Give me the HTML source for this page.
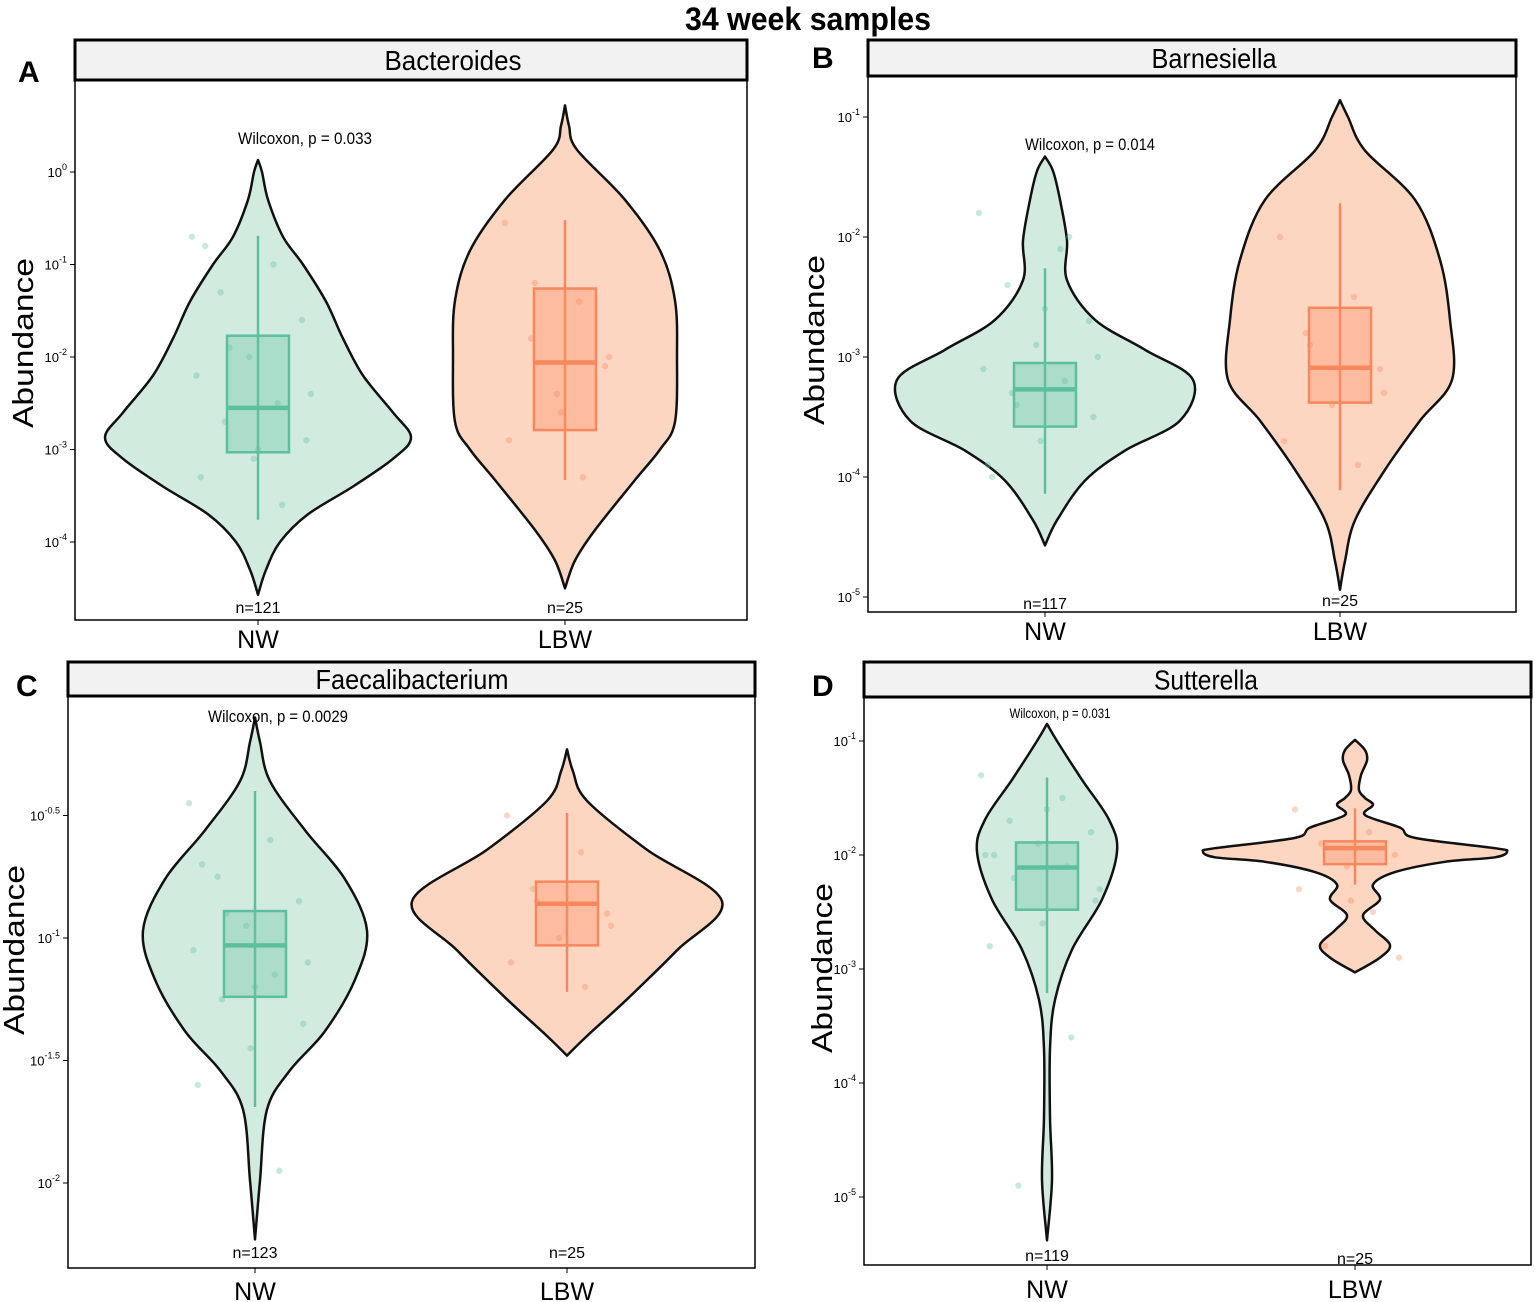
<!DOCTYPE html>
<html><head><meta charset="utf-8"><style>
html,body{margin:0;padding:0;background:#fff}
svg{display:block;font-family:"Liberation Sans Narrow","Liberation Sans",sans-serif}
</style></head><body>
<svg id="fig" width="1535" height="1302" viewBox="0 0 1535 1302" xmlns="http://www.w3.org/2000/svg">
<text x="808" y="30" font-size="32" font-weight="bold" text-anchor="middle" textLength="246" lengthAdjust="spacingAndGlyphs">34 week samples</text>
</svg>
<script>
// ---- data ----
const groups = ["NW","LBW"];
const taxa = ["Bacteroides","Barnesiella","Faecalibacterium","Sutterella"];
const panelLetters = ["A","B","C","D"];
const pvalues = ["Wilcoxon, p = 0.033","Wilcoxon, p = 0.014","Wilcoxon, p = 0.0029","Wilcoxon, p = 0.031"];
const counts = [["n=121","n=25"],["n=117","n=25"],["n=123","n=25"],["n=119","n=25"]];
const tickLogs = [[0,-1,-2,-3,-4],[-1,-2,-3,-4,-5],[-0.5,-1,-1.5,-2],[-1,-2,-3,-4,-5]];
const tickLabels = [["0","-1","-2","-3","-4"],["-1","-2","-3","-4","-5"],["-0.5","-1","-1.5","-2"],["-1","-2","-3","-4","-5"]];
// violin density profiles: [log10 value, relative half width]
const violinA_NW = [[0.13,0],[0,4],[-0.3,10],[-0.7,25],[-1.0,45],[-1.4,68],[-1.8,85],[-2.2,105],[-2.6,135],[-2.87,153],[-3.1,135],[-3.4,95],[-3.7,50],[-4.0,22],[-4.3,8],[-4.57,0]];
const violinA_LBW = [[0.72,0],[0.5,4],[0.24,12],[-0.3,60],[-0.85,95],[-1.39,110],[-2.0,112],[-2.7,110],[-3.0,95],[-3.33,70],[-3.87,30],[-4.2,10],[-4.5,0]];
const violinB_NW = [[-1.33,0],[-1.45,8],[-1.69,15],[-2.03,22],[-2.36,22],[-2.69,50],[-2.94,100],[-3.19,148],[-3.53,135],[-3.78,80],[-4.03,40],[-4.36,12],[-4.57,0]];
const violinB_LBW = [[-0.86,0],[-1.0,8],[-1.28,25],[-1.69,75],[-2.19,100],[-2.69,110],[-3.19,112],[-3.53,80],[-3.94,45],[-4.36,15],[-4.7,5],[-4.94,0]];
const violinC_NW = [[-0.10,0],[-0.2,5],[-0.36,15],[-0.56,50],[-0.76,90],[-0.97,112],[-1.17,100],[-1.38,70],[-1.54,35],[-1.70,12],[-1.99,5],[-2.23,0]];
const violinC_LBW = [[-0.23,0],[-0.32,6],[-0.44,20],[-0.64,80],[-0.85,155],[-1.05,110],[-1.25,60],[-1.40,20],[-1.48,0]];
const violinD_NW = [[-0.85,0],[-1.0,10],[-1.34,35],[-1.69,62],[-1.97,70],[-2.39,55],[-2.83,25],[-3.27,8],[-3.7,3],[-4.3,3],[-4.85,5],[-5.38,0]];
const violinD_LBW = [[-0.99,0],[-1.08,10],[-1.17,12],[-1.3,6],[-1.43,4],[-1.5,10],[-1.56,18],[-1.65,10],[-1.76,45],[-1.85,60],[-1.94,140],[-1.97,152],[-2.02,140],[-2.06,90],[-2.15,40],[-2.26,18],[-2.39,25],[-2.53,8],[-2.66,20],[-2.79,35],[-2.90,25],[-3.03,0]];
// box stats: [whisker low, q1, median, q3, whisker high] (log10)
const boxA = [[-3.76,-3.03,-2.55,-1.77,-0.69],[-3.33,-2.79,-2.06,-1.26,-0.52]];
const boxB = [[-4.14,-3.58,-3.27,-3.05,-2.26],[-4.11,-3.38,-3.09,-2.59,-1.72]];
const boxC = [[-1.69,-1.24,-1.03,-0.89,-0.40],[-1.22,-1.03,-0.86,-0.77,-0.49]];
const boxD = [[-3.21,-2.48,-2.11,-1.89,-1.32],[-2.26,-2.08,-1.94,-1.88,-1.59]];
// jittered observations (log10)
const ptsA = [[-0.7,-1.0,-1.3,-1.6,-2.0,-2.2,-2.5,-2.7,-2.9,-3.1,-3.3,-3.6,-1.9,-2.4,-3.0,-0.8],[-0.55,-1.4,-1.8,-2.1,-2.4,-2.9,-3.3,-1.2,-2.0,-2.6]];
const ptsB = [[-1.8,-2.1,-2.4,-2.7,-2.9,-3.1,-3.2,-3.3,-3.5,-3.7,-3.9,-2.0,-3.4,-3.0,-2.6,-4.0],[-2.0,-2.5,-2.8,-3.1,-3.4,-3.7,-3.9,-2.9,-3.3]];
const ptsC = [[-0.45,-0.6,-0.75,-0.85,-0.95,-1.05,-1.15,-1.25,-1.35,-1.45,-1.6,-1.95,-0.9,-1.1,-1.2,-0.7],[-0.5,-0.65,-0.8,-0.9,-1.0,-1.1,-1.2,-0.85,-0.95]];
const ptsD = [[-1.3,-1.5,-1.7,-1.8,-1.9,-2.0,-2.1,-2.2,-2.4,-2.6,-2.8,-3.6,-4.9,-2.3,-1.6,-2.0],[-1.6,-1.8,-1.9,-2.0,-2.1,-2.3,-2.5,-2.8,-2.9,-2.4]];

// ---- layout ----
const panels = [
 {x0:75,x1:747,sTop:40,sBot:80,y1:620,y0log:0,y0px:172,ppd:92.5,cx:[258,565],nY:[613,613],lblY:648,letX:18,letY:82,abX:33,abY:343,pX:305,pY:144,pFs:17,pLen:134,stripFs:28,stripLen:137,cxt:453,violins:[violinA_NW,violinA_LBW],boxes:boxA,pts:ptsA},
 {x0:868,x1:1516,sTop:40,sBot:76,y1:612,y0log:-1,y0px:117,ppd:120,cx:[1045,1340],nY:[609,606],lblY:640,letX:812,letY:68,abX:824,abY:340,pX:1090,pY:150,pFs:17,pLen:130,stripFs:28,stripLen:125,cxt:1214,violins:[violinB_NW,violinB_LBW],boxes:boxB,pts:ptsB},
 {x0:68,x1:755,sTop:662,sBot:696,y1:1268,y0log:-1,y0px:938,ppd:245,cx:[255,567],nY:[1258,1258],lblY:1300,letX:16,letY:696,abX:24,abY:950,pX:278,pY:722,pFs:17,pLen:140,stripFs:28,stripLen:193,cxt:412,violins:[violinC_NW,violinC_LBW],boxes:boxC,pts:ptsC},
 {x0:864,x1:1531,sTop:662,sBot:697,y1:1265,y0log:-1,y0px:741,ppd:114,cx:[1047,1355],nY:[1261,1264],lblY:1298,letX:812,letY:696,abX:832,abY:968,pX:1060,pY:718,pFs:14,pLen:101,stripFs:28,stripLen:104,cxt:1206,violins:[violinD_NW,violinD_LBW],boxes:boxD,pts:ptsD}
];
const fills = ["#d2ebdf","#fdd6c1"];
const strokes = ["#5cc09e","#f7875d"];
const boxFills = ["rgba(102,194,165,0.35)","rgba(252,141,98,0.35)"];
const NS = "http://www.w3.org/2000/svg";
const svg = document.getElementById('fig');
function mk(tag, attrs, parent){const e=document.createElementNS(NS,tag);for(const k in attrs)e.setAttribute(k,attrs[k]);(parent||svg).appendChild(e);return e;}
function smoothPath(pts){
  let d="M"+pts[0][0]+","+pts[0][1];
  for(let i=0;i<pts.length-1;i++){
    const p0=pts[Math.max(0,i-1)],p1=pts[i],p2=pts[i+1],p3=pts[Math.min(pts.length-1,i+2)];
    const c1=[p1[0]+(p2[0]-p0[0])/6,p1[1]+(p2[1]-p0[1])/6];
    const c2=[p2[0]-(p3[0]-p1[0])/6,p2[1]-(p3[1]-p1[1])/6];
    d+=" C"+c1[0].toFixed(1)+","+c1[1].toFixed(1)+" "+c2[0].toFixed(1)+","+c2[1].toFixed(1)+" "+p2[0].toFixed(1)+","+p2[1].toFixed(1);
  }
  return d;
}
panels.forEach((P,pi)=>{
  const g=mk('g',{});
  
  
  const yS=v=>P.y0px+(P.y0log-v)*P.ppd;
  const strip=mk('rect',{x:P.x0,y:P.sTop,width:P.x1-P.x0,height:P.sBot-P.sTop,fill:'#f2f2f2',stroke:'#000','stroke-width':3},g);
  
  
  const st=mk('text',{x:P.cxt,y:(P.sTop+P.sBot)/2+10,'font-size':P.stripFs,'text-anchor':'middle',textLength:P.stripLen,lengthAdjust:'spacingAndGlyphs'},g);
  st.textContent=taxa[pi];
  
  
  const fr=mk('rect',{x:P.x0,y:P.sBot,width:P.x1-P.x0,height:P.y1-P.sBot,fill:'none',stroke:'#000','stroke-width':1.5},g);
  
  
  const lt=mk('text',{x:P.letX,y:P.letY,'font-size':30,'font-weight':'bold','font-family':'Liberation Sans, sans-serif'},g);
  lt.textContent=panelLetters[pi];
  
  
  const ab=mk('text',{x:P.abX,y:P.abY,'font-size':29,'text-anchor':'middle',textLength:170,lengthAdjust:'spacingAndGlyphs',transform:`rotate(-90 ${P.abX} ${P.abY})`,'font-family':'Liberation Sans, sans-serif'},g);
  ab.textContent='Abundance';
  
  
  tickLogs[pi].forEach((t,ti)=>{
    const y=yS(t);
    const tk=mk('line',{x1:P.x0-5,x2:P.x0,y1:y,y2:y,stroke:'#000','stroke-width':1},g);
    
    
    const tx=mk('text',{x:P.x0-8,y:y+5,'font-size':13,'text-anchor':'end'},g);
    
    
    const b=mk('tspan',{},tx);b.textContent='10';
    const s=mk('tspan',{dy:-7,'font-size':9},tx);s.textContent=tickLabels[pi][ti];
  });
  groups.forEach((gname,gi)=>{
    const cx=P.cx[gi];
    const prof=P.violins[gi];
    const right=prof.map(p=>[cx+p[1],yS(p[0])]);
    const left=prof.slice().reverse().map(p=>[cx-p[1],yS(p[0])]);
    const d=smoothPath(right)+" L"+smoothPath(left).slice(1)+" Z";
    const v=mk('path',{d:d,fill:fills[gi],stroke:'#111','stroke-width':2.5,'stroke-linejoin':'round'},g);
    
    
    P.pts[gi].forEach((val,i)=>{
      const jit=((i*37)%61-30)*(gi===0?2.2:2.0);
      const c=mk('circle',{cx:cx+jit,cy:yS(val),r:3.2,fill:strokes[gi],opacity:0.35},g);
      
      
    });
    const [wl,q1,md,q3,wh]=P.boxes[gi];
    const hw=31;
    const w=mk('line',{x1:cx,x2:cx,y1:yS(wl),y2:yS(wh),stroke:strokes[gi],'stroke-width':2.5},g);
    
    
    const bx=mk('rect',{x:cx-hw,y:yS(q3),width:2*hw,height:yS(q1)-yS(q3),fill:boxFills[gi],stroke:strokes[gi],'stroke-width':2.5},g);
    
    
    const ml=mk('line',{x1:cx-hw,x2:cx+hw,y1:yS(md),y2:yS(md),stroke:strokes[gi],'stroke-width':4.5},g);
    
    
    const n=mk('text',{x:cx,y:P.nY[gi],'font-size':16,'text-anchor':'middle'},g);
    n.textContent=counts[pi][gi];
    
    
    const xt=mk('line',{x1:cx,x2:cx,y1:P.y1,y2:P.y1+5,stroke:'#000'},g);
    
    
    const xl=mk('text',{x:cx,y:P.lblY,'font-size':25,'text-anchor':'middle'},g);
    xl.textContent=gname;
    
    
  });
  const pt=mk('text',{x:P.pX,y:P.pY,'font-size':P.pFs,'text-anchor':'middle',textLength:P.pLen,lengthAdjust:'spacingAndGlyphs'},g);
  pt.textContent=pvalues[pi];
  
  
});
</script>
</body></html>
